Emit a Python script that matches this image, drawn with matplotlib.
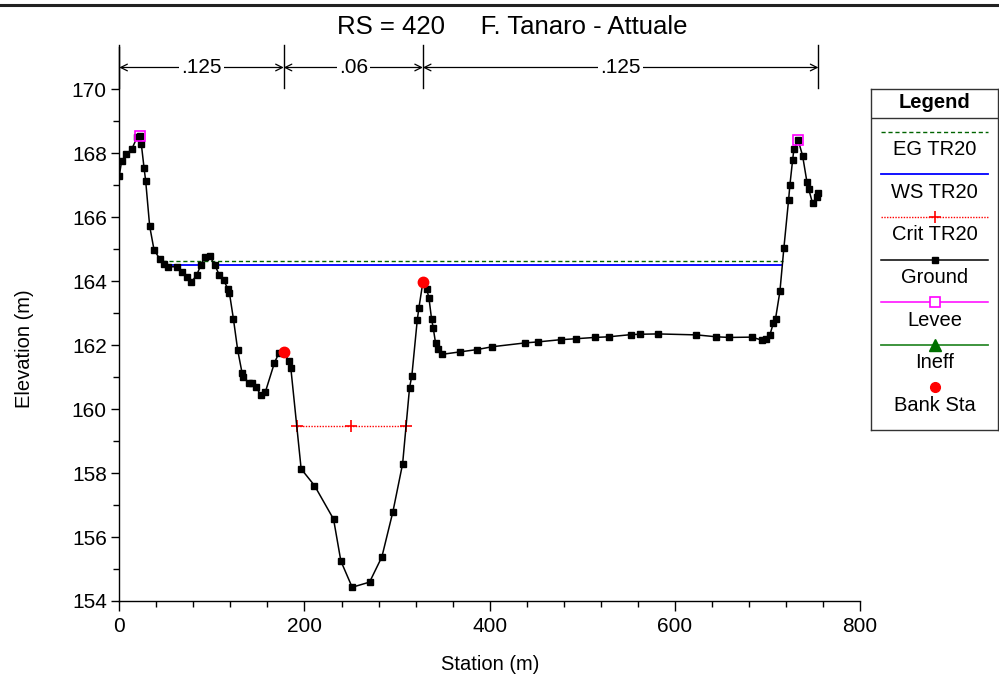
import numpy as np
import matplotlib
matplotlib.use("Agg")
import matplotlib.pyplot as plt
from matplotlib.lines import Line2D
from matplotlib.ticker import FixedLocator

plt.rcParams['font.family'] = ['Liberation Sans', 'DejaVu Sans']

# ---------------- data ----------------
station = [0, 2.5, 7.2, 13.3, 19.5, 22.5, 23.8, 26.7, 28.5, 32.8, 37.5, 43.6, 47.9,
           53.0, 62.0, 68.0, 73.2, 77.8, 83.6, 88.3, 93.0, 97.6, 103.0, 108.0, 112.8,
           117.0, 119.0, 123.2, 127.9, 132.6, 134.0, 139.8, 143.4, 147.7, 152.8, 157.8,
           167.6, 172.2, 177.6, 183.0, 185.2, 196.4, 210.8, 231.4, 239.3, 251.5, 270.3,
           283.6, 295.5, 306.0, 313.5, 316.0, 321.8, 323.6, 327.9, 331.9, 334.4, 337.3,
           339.1, 341.6, 343.8, 348.1, 368.3, 386.3, 402.9, 438.6, 451.9, 476.8, 493.3,
           513.5, 528.6, 553.2, 562.2, 582.0, 623.4, 645.0, 658.7, 682.9, 693.7, 698.4,
           702.7, 706.3, 708.8, 713.5, 717.8, 722.9, 724.3, 727.2, 728.6, 733.3, 738.0,
           742.7, 744.5, 748.8, 753.1, 755.1]
elevation = [167.29, 167.76, 167.96, 168.12, 168.51, 168.54, 168.28, 167.55, 167.13, 165.72,
             164.98, 164.70, 164.55, 164.45, 164.45, 164.29, 164.12, 163.97, 164.19, 164.52,
             164.76, 164.78, 164.52, 164.19, 164.03, 163.77, 163.62, 162.83, 161.84, 161.13,
             161.01, 160.82, 160.82, 160.70, 160.43, 160.54, 161.45, 161.74, 161.80, 161.51,
             161.30, 158.13, 157.61, 156.56, 155.25, 154.43, 154.59, 155.38, 156.79, 158.29,
             160.67, 161.05, 162.78, 163.17, 163.97, 163.76, 163.48, 162.81, 162.53, 162.06,
             161.87, 161.71, 161.79, 161.86, 161.95, 162.07, 162.10, 162.17, 162.20, 162.24,
             162.26, 162.33, 162.34, 162.35, 162.32, 162.26, 162.24, 162.25, 162.16, 162.18,
             162.32, 162.68, 162.83, 163.68, 165.04, 166.55, 167.01, 167.78, 168.12, 168.40,
             167.92, 167.10, 166.89, 166.43, 166.62, 166.76]

levee_station = [22.5, 733.3]
levee_elev = [168.54, 168.40]

bank_station = [177.6, 327.9]
bank_elev = [161.80, 163.97]

eg_elev = 164.62
ws_elev = 164.51
crit_elev = 159.47

n_values = [".125", ".06", ".125"]

xticks = [0, 200, 400, 600, 800]
yticks = [154, 156, 158, 160, 162, 164, 166, 168, 170]

st = np.array(station)
el = np.array(elevation)


def wet_intervals(level):
    """Intervals of station where the ground is below the given level."""
    out = []
    start = None
    for i in range(len(st) - 1):
        x0, x1, y0, y1 = st[i], st[i + 1], el[i], el[i + 1]
        b0, b1 = y0 < level, y1 < level
        if b0 and start is None:
            start = x0
        if b0 != b1:
            xc = x0 + (level - y0) * (x1 - x0) / (y1 - y0)
            if b1:
                start = xc
            else:
                out.append((start, xc))
                start = None
    if start is not None:
        out.append((start, st[-1]))
    return out


# ---------------- figure ----------------
W, H = 999, 680
fig = plt.figure(figsize=(W / 100, H / 100), dpi=100)
ax = fig.add_axes([119.3 / W, 79 / H, 740.7 / W, 554.3 / H])
ax.set_xlim(0, 800)
ax.set_ylim(154, 171.33)

# EG line (continuous across wetted extent)
eg_int = wet_intervals(eg_elev)
ax.plot([eg_int[0][0], eg_int[-1][1]], [eg_elev, eg_elev], color='#006400',
        lw=1.0, ls=(0, (3, 2)), zorder=3)
# WS line segments
for a, b in wet_intervals(ws_elev):
    ax.plot([a, b], [ws_elev, ws_elev], color='#0000ff', lw=1.3, zorder=3)
# Critical line
for a, b in wet_intervals(crit_elev):
    ax.plot([a, (a + b) / 2, b], [crit_elev] * 3, color='red', lw=1.0, ls=(0, (1, 1)),
            marker='+', ms=8, mew=1.2, zorder=3)

# Ground
ax.plot(st, el, color='black', lw=1.1, marker='s', ms=5, zorder=4)
# Levee
ax.plot(levee_station, levee_elev, ls='none', marker='s', ms=7.5, mfc='none',
        mec='#ff00ff', mew=1.2, zorder=5)
# Bank stations
ax.plot(bank_station, bank_elev, ls='none', marker='o', ms=7.5, color='red', zorder=6)

# Manning's n annotation
bounds = [st[0]] + bank_station + [st[-1]]
y_arrow = 170.68
for xv in bounds:
    ax.plot([xv, xv], [170.04, 171.38], color='black', lw=1.0, clip_on=False, zorder=7)
for i, lab in enumerate(n_values):
    a, b = bounds[i], bounds[i + 1]
    ax.annotate('', xy=(a, y_arrow), xytext=(b, y_arrow),
                arrowprops=dict(arrowstyle='<->', lw=0.9, color='black',
                                shrinkA=0, shrinkB=0, mutation_scale=12),
                annotation_clip=False, zorder=7)
    ax.text((a + b) / 2, y_arrow, lab, ha='center', va='center', fontsize=15,
            bbox=dict(facecolor='white', edgecolor='none', pad=1.5), zorder=8, clip_on=False)

# Axes styling
for s in ['top', 'right']:
    ax.spines[s].set_visible(False)
for s in ['left', 'bottom']:
    ax.spines[s].set_linewidth(1.0)
ax.set_xticks(xticks)
ax.set_yticks(yticks)
ax.xaxis.set_minor_locator(FixedLocator([x for x in range(40, 800, 40) if x % 200]))
ax.yaxis.set_minor_locator(FixedLocator(list(range(155, 170, 2))))
ax.tick_params(axis='both', which='major', direction='out', length=6, width=1,
               labelsize=15)
ax.tick_params(axis='x', which='major', length=7.5, pad=4)
ax.tick_params(axis='y', which='major', length=6, pad=3)
ax.tick_params(axis='both', which='minor', direction='out', length=4, width=1)

# Labels and title
fig.text(490 / W, 1 - 665 / H, 'Station (m)', ha='center', va='center', fontsize=14.5)
fig.text(25 / W, 1 - 349 / H, 'Elevation (m)', ha='center', va='center',
         rotation=90, fontsize=14.5)
fig.text(512 / W, 1 - 27 / H, 'RS = 420     F. Tanaro - Attuale', ha='center',
         va='center', fontsize=18.5)

# top border
fig.add_artist(Line2D([0, 1], [1 - 5 / H, 1 - 5 / H], transform=fig.transFigure,
                      color='#222222', lw=2.2))

# ---------------- legend ----------------
L, R, T, B = 871, 998, 89.3, 430
lax = fig.add_axes([L / W, 1 - B / H, (R - L) / W, (B - T) / H])
lax.set_xlim(L, R)
lax.set_ylim(B, T)
lax.set_xticks([])
lax.set_yticks([])
for s in lax.spines.values():
    s.set_linewidth(1.0)
    s.set_color('#333333')
cx = (L + R) / 2
x0, x1 = 881, 988
lax.text(cx, 102, 'Legend', ha='center', va='center', fontsize=14.5, fontweight='bold')
lax.plot([L, R], [117.7, 117.7], color='#333333', lw=1.0)
entries = [
    ('EG TR20', 131.7, dict(color='#006400', lw=1.0, ls=(0, (3, 2))), None),
    ('WS TR20', 174.3, dict(color='#0000ff', lw=1.3), None),
    ('Crit TR20', 216.7, dict(color='red', lw=1.0, ls=(0, (1, 1))),
     dict(marker='+', ms=8, mew=1.2, color='red')),
    ('Ground', 260.0, dict(color='black', lw=1.1), dict(marker='s', ms=5, color='black')),
    ('Levee', 302.3, dict(color='#ff00ff', lw=1.1),
     dict(marker='s', ms=7, mfc='white', mec='#ff00ff', mew=1.2)),
    ('Ineff', 345.0, dict(color='#2e8b2e', lw=1.3),
     dict(marker='^', ms=8, color='#007000')),
    ('Bank Sta', 387.3, None, dict(marker='o', ms=7, color='red')),
]
for label, y, lkw, mkw in entries:
    if lkw is not None:
        lax.plot([x0, x1], [y, y], **lkw)
    if mkw is not None:
        lax.plot([cx], [y], ls='none', **mkw)
    lax.text(cx, y + 18, label, ha='center', va='center', fontsize=14.5)

fig.savefig('out.png', dpi=100)
